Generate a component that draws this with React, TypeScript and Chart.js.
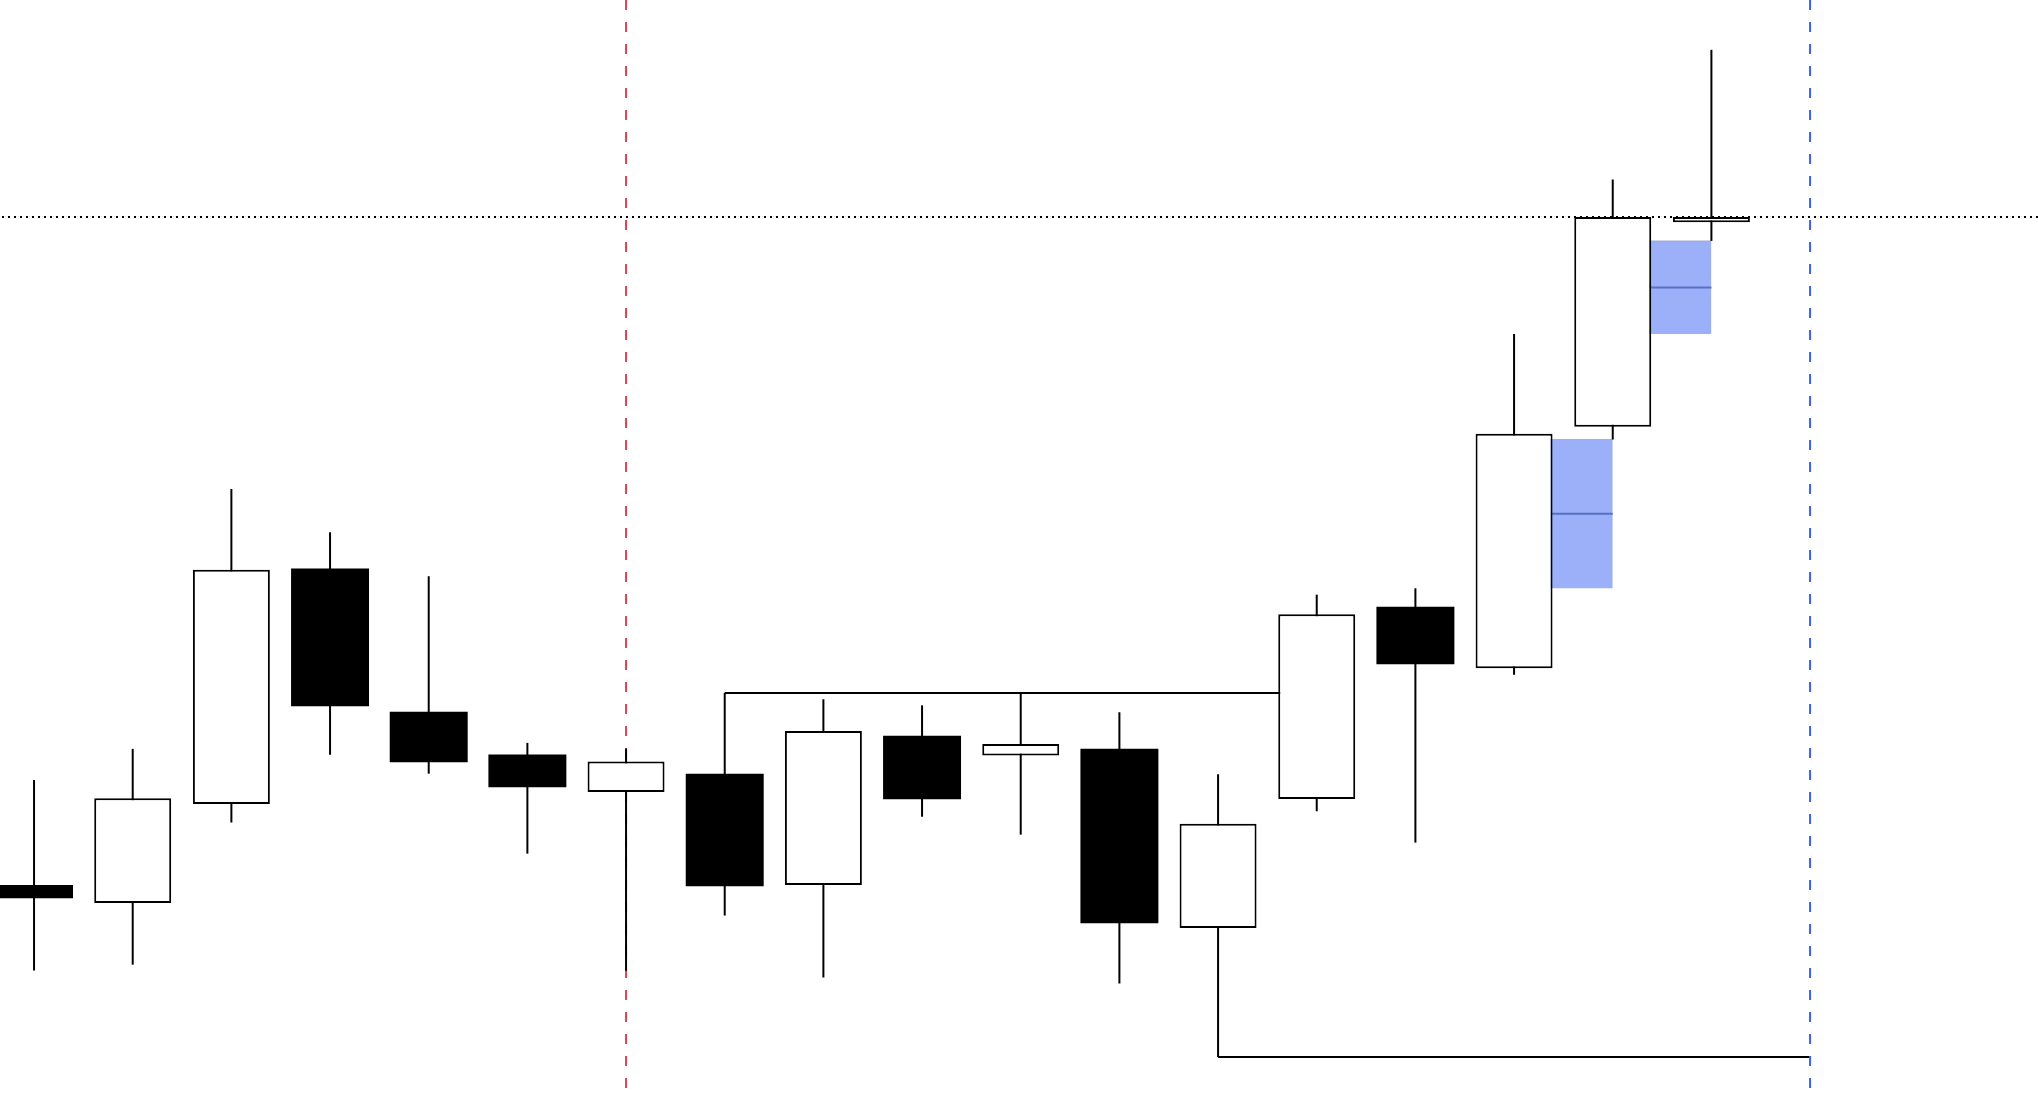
import React, { useEffect, useRef } from "react";
import { Chart, registerables } from "chart.js";

Chart.register(...registerables);

// ---- candle data (arbitrary price points) ----
const candleIndex = [0, 1, 2, 3, 4, 5, 6, 7, 8, 9, 10, 11, 12, 13, 14, 15, 16, 17];
const opens = [162, 148.5, 224.6, 405.3, 295.2, 262.2, 233.9, 247.5, 162.3, 276.7, 261.9, 266.7, 129.3, 228.5, 375.9, 329, 514.8, 672];
const highs = [243, 267, 466.9, 433.6, 399.8, 271.6, 267.2, 310, 305.1, 300.5, 310, 295.1, 247.5, 385.6, 390.5, 586.1, 705, 804.7];
const lows = [96.5, 101, 210.3, 262.5, 247.9, 186.4, 96.3, 138.8, 91.2, 214.8, 201, 86.5, 30, 219, 194.9, 324, 505, 657.7];
const closes = [152.5, 229, 404.8, 300.1, 257, 237.8, 257.3, 161.8, 280.8, 228.6, 270.8, 133.3, 209.4, 370.5, 332.5, 509.4, 676.1, 676.1];

// ---- fair value gaps ----
const gapStart = [15, 16];
const gapEnd = [16, 17];
const gapBottom = [390.5, 586.1];
const gapTop = [505, 657.7];

// ---- liquidity levels ----
const levelStart = [7, 12];
const levelEnd = [13, 18];
const levelPrice = [310, 30];

// ---- markers ----
const sessionMarkerX = 6;
const nowMarkerX = 18;
const lastPrice = 676.1;

// ---- axis bounds ----
const xAxisMin = -0.345;
const xAxisMax = 20.31;
const yAxisMin = 0;
const yAxisMax = 843;

export default function App() {
  const ref = useRef<HTMLCanvasElement>(null);

  useEffect(() => {
    if (!ref.current) return;
    const datasets: any[] = [];
    const lineBase = { type: "line", pointRadius: 0, pointHoverRadius: 0, tension: 0 };
    const isUp = (i: number) => closes[i] >= opens[i];

    gapStart.forEach((s, k) => {
      datasets.push({
        ...lineBase,
        data: [{ x: s, y: gapTop[k] }, { x: gapEnd[k], y: gapTop[k] }],
        borderColor: "rgba(150,162,200,0.75)",
        borderWidth: 1,
        backgroundColor: "#9bb0f9",
        fill: "+1",
        order: 10,
      });
      datasets.push({
        ...lineBase,
        data: [{ x: s, y: gapBottom[k] }, { x: gapEnd[k], y: gapBottom[k] }],
        borderColor: "transparent",
        borderWidth: 0,
        fill: false,
        order: 10,
      });
      const mid = (gapTop[k] + gapBottom[k]) / 2;
      datasets.push({
        ...lineBase,
        data: [{ x: s, y: mid }, { x: gapEnd[k], y: mid }],
        borderColor: "#5871c4",
        borderWidth: 2,
        fill: false,
        order: 9,
      });
    });

    datasets.push({
      ...lineBase,
      data: [{ x: sessionMarkerX, y: yAxisMax }, { x: sessionMarkerX, y: yAxisMin }],
      borderColor: "#dc4450",
      borderWidth: 2,
      borderDash: [10, 12],
      fill: false,
      order: 8,
    });

    levelStart.forEach((s, k) => {
      datasets.push({
        ...lineBase,
        data: [{ x: s, y: levelPrice[k] }, { x: levelEnd[k], y: levelPrice[k] }],
        borderColor: "#000000",
        borderWidth: 2,
        fill: false,
        order: 7,
      });
    });

    datasets.push({
      ...lineBase,
      data: [{ x: nowMarkerX, y: yAxisMax }, { x: nowMarkerX, y: yAxisMin }],
      borderColor: "#3a62ee",
      borderWidth: 2,
      borderDash: [10, 12],
      fill: false,
      order: 6,
    });

    datasets.push({
      ...lineBase,
      data: [{ x: xAxisMin, y: lastPrice }, { x: xAxisMax, y: lastPrice }],
      borderColor: "#000000",
      borderWidth: 2,
      borderDash: [2, 4],
      borderDashOffset: 4,
      fill: false,
      order: 5,
    });

    datasets.push({
      type: "bar",
      data: candleIndex.map((i) => ({ x: i, y: [lows[i], highs[i]] })),
      backgroundColor: "#000000",
      borderWidth: 0,
      barThickness: 2,
      inflateAmount: 0,
      grouped: false,
      order: 2,
    });

    datasets.push({
      type: "bar",
      data: candleIndex.map((i) => ({ x: i, y: [opens[i], closes[i]] })),
      backgroundColor: candleIndex.map((i) => (isUp(i) ? "#ffffff" : "#000000")),
      borderColor: "#000000",
      borderWidth: candleIndex.map((i) => (isUp(i) ? 2 : 0)),
      borderSkipped: false,
      inflateAmount: candleIndex.map((i) => (isUp(i) ? 0 : 0.5)),
      grouped: false,
      categoryPercentage: 1,
      barPercentage: 0.78,
      order: 1,
    });

    const chart = new Chart(ref.current, {
      type: "bar",
      data: { datasets },
      options: {
        animation: false,
        responsive: true,
        maintainAspectRatio: false,
        events: [],
        layout: { padding: 0 },
        plugins: {
          legend: { display: false },
          tooltip: { enabled: false },
        },
        scales: {
          x: {
            type: "linear",
            display: false,
            offset: false,
            min: xAxisMin,
            max: xAxisMax,
            ticks: { stepSize: 1, includeBounds: false, maxTicksLimit: 40 },
            grid: { display: false },
          },
          y: {
            type: "linear",
            display: false,
            min: yAxisMin,
            max: yAxisMax,
            grid: { display: false },
          },
        },
      } as any,
    } as any);

    return () => chart.destroy();
  }, []);

  return (
    <div style={{ position: "fixed", left: 0, top: 0, width: "100vw", height: "100vh", background: "#ffffff" }}>
      <canvas ref={ref} />
    </div>
  );
}
